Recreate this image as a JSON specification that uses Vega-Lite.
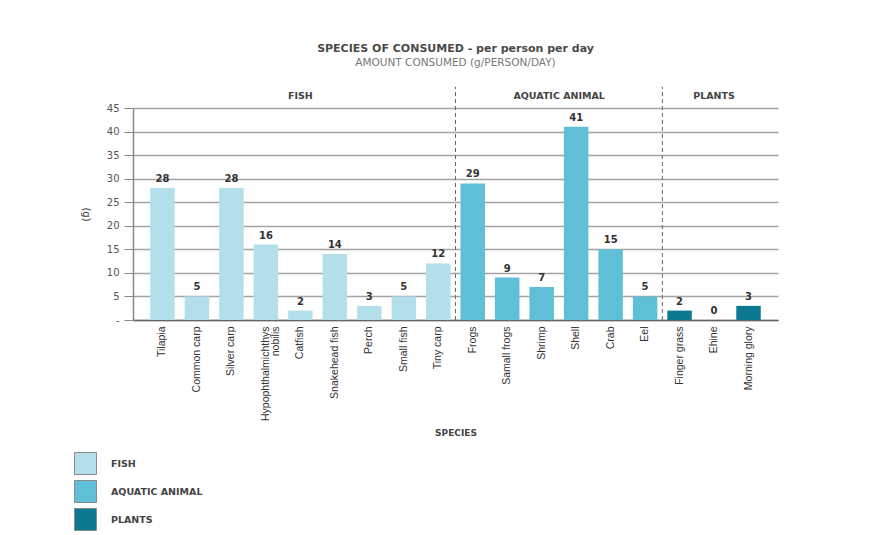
{
  "$schema": "https://vega.github.io/schema/vega-lite/v6.json",
  "autosize": {"type": "none"},
  "padding": {"left": 133, "top": 108, "right": 112, "bottom": 215},
  "width": 645,
  "height": 212,
  "background": "white",
  "title": {
    "text": "SPECIES OF CONSUMED - per person per day",
    "subtitle": "AMOUNT CONSUMED (g/PERSON/DAY)",
    "anchor": "middle",
    "font": "DejaVu Sans",
    "fontSize": 11,
    "fontWeight": "bold",
    "color": "#4a4a4a",
    "subtitleFont": "DejaVu Sans",
    "subtitleFontSize": 10.5,
    "subtitleColor": "#777777",
    "subtitlePadding": 4,
    "offset": 18
  },
  "datasets": {
    "bars": [
      {"species": "Tilapia", "group": "FISH", "grams": 28},
      {"species": "Common carp", "group": "FISH", "grams": 5},
      {"species": "Silver carp", "group": "FISH", "grams": 28},
      {"species": "Hypophthalmichthys nobilis", "group": "FISH", "grams": 16},
      {"species": "Catfish", "group": "FISH", "grams": 2},
      {"species": "Snakehead fish", "group": "FISH", "grams": 14},
      {"species": "Perch", "group": "FISH", "grams": 3},
      {"species": "Small fish", "group": "FISH", "grams": 5},
      {"species": "Tiny carp", "group": "FISH", "grams": 12},
      {"species": "Frogs", "group": "AQUATIC ANIMAL", "grams": 29},
      {"species": "Samall frogs", "group": "AQUATIC ANIMAL", "grams": 9},
      {"species": "Shrimp", "group": "AQUATIC ANIMAL", "grams": 7},
      {"species": "Shell", "group": "AQUATIC ANIMAL", "grams": 41},
      {"species": "Crab", "group": "AQUATIC ANIMAL", "grams": 15},
      {"species": "Eel", "group": "AQUATIC ANIMAL", "grams": 5},
      {"species": "Finger grass", "group": "PLANTS", "grams": 2},
      {"species": "Ehine", "group": "PLANTS", "grams": 0},
      {"species": "Morning glory", "group": "PLANTS", "grams": 3}
    ],
    "separators": [
      {"species": "Frogs"},
      {"species": "Finger grass"}
    ],
    "headersA": [
      {"species": "Catfish", "header": "FISH"},
      {"species": "Ehine", "header": "PLANTS"}
    ],
    "headersB": [
      {"species": "Shell", "header": "AQUATIC ANIMAL"}
    ]
  },
  "layer": [
    {
      "data": {"name": "bars"},
      "mark": {"type": "bar"},
      "encoding": {
        "x": {
          "field": "species",
          "type": "nominal",
          "sort": null,
          "scale": {"paddingInner": 0.29, "paddingOuter": 0.5},
          "axis": {
            "title": "SPECIES",
            "titleFont": "DejaVu Sans",
            "titleFontSize": 9,
            "titleFontWeight": "bold",
            "titleColor": "#444444",
            "titleBaseline": "middle",
            "titleY": 112,
            "labelAngle": -90,
            "labelFont": "Liberation Sans",
            "labelFontSize": 10.5,
            "labelColor": "#333333",
            "labelPadding": 6,
            "labelExpr": "datum.value == 'Hypophthalmichthys nobilis' ? ['Hypophthalmichthys', 'nobilis'] : datum.label",
            "labelLineHeight": 10,
            "ticks": false,
            "domainColor": "#666666",
            "domainWidth": 1.5,
            "grid": false
          }
        },
        "y": {
          "field": "grams",
          "type": "quantitative",
          "scale": {"domain": [0, 45], "nice": false},
          "axis": {
            "title": "(g)",
            "titleAngle": 90,
            "titleX": -53,
            "titleY": 106,
            "titleFont": "DejaVu Sans",
            "titleFontSize": 10,
            "titleFontWeight": "normal",
            "titleColor": "#444444",
            "values": [0, 5, 10, 15, 20, 25, 30, 35, 40, 45],
            "labelOverlap": false,
            "labelExpr": "datum.value == 0 ? '-' : datum.label",
            "labelFont": "DejaVu Sans",
            "labelFontSize": 10,
            "labelColor": "#555555",
            "labelPadding": 5,
            "tickSize": 9,
            "tickColor": "#888888",
            "domainColor": "#888888",
            "domainWidth": 1.5,
            "grid": true,
            "gridColor": "#a3a3a3",
            "gridWidth": 1.5
          }
        },
        "color": {
          "field": "group",
          "type": "nominal",
          "scale": {
            "domain": ["FISH", "AQUATIC ANIMAL", "PLANTS"],
            "range": ["#b3dfea", "#5fbfd6", "#0b7a91"]
          },
          "legend": {
            "title": null,
            "orient": "none",
            "legendX": -59,
            "legendY": 344,
            "symbolType": "square",
            "symbolSize": 484,
            "symbolStrokeColor": "#8a8a8a",
            "symbolStrokeWidth": 1,
            "symbolOpacity": 1,
            "rowPadding": 1,
            "labelOffset": 14,
            "labelFont": "DejaVu Sans",
            "labelFontSize": 9.5,
            "labelFontWeight": "bold",
            "labelColor": "#444444"
          }
        }
      }
    },
    {
      "data": {"name": "bars"},
      "mark": {"type": "text", "baseline": "bottom", "dy": -4, "font": "DejaVu Sans", "fontSize": 10, "fontWeight": "bold", "color": "#333333"},
      "encoding": {
        "x": {"field": "species", "type": "nominal", "sort": null},
        "y": {
          "field": "grams",
          "type": "quantitative",
          "axis": {
            "title": "(g)",
            "values": [0, 5, 10, 15, 20, 25, 30, 35, 40, 45],
            "labelOverlap": false,
            "labelExpr": "datum.value == 0 ? '-' : datum.label",
            "grid": true
          }
        },
        "text": {"field": "grams", "type": "quantitative"}
      }
    },
    {
      "data": {"name": "separators"},
      "mark": {"type": "rule", "color": "#666666", "strokeWidth": 1, "strokeDash": [4, 3], "xOffset": -5},
      "encoding": {
        "x": {"field": "species", "type": "nominal", "sort": null, "bandPosition": 0},
        "y": {
          "datum": 0,
          "axis": {
            "title": "(g)",
            "values": [0, 5, 10, 15, 20, 25, 30, 35, 40, 45],
            "labelOverlap": false,
            "labelExpr": "datum.value == 0 ? '-' : datum.label",
            "grid": true
          }
        },
        "y2": {"datum": 49.5}
      }
    },
    {
      "data": {"name": "headersA"},
      "mark": {"type": "text", "baseline": "middle", "font": "DejaVu Sans", "fontSize": 9.5, "fontWeight": "bold", "color": "#444444"},
      "encoding": {
        "x": {"field": "species", "type": "nominal", "sort": null},
        "y": {
          "datum": 47.5,
          "axis": {
            "title": "(g)",
            "values": [0, 5, 10, 15, 20, 25, 30, 35, 40, 45],
            "labelOverlap": false,
            "labelExpr": "datum.value == 0 ? '-' : datum.label",
            "grid": true
          }
        },
        "text": {"field": "header"}
      }
    },
    {
      "data": {"name": "headersB"},
      "mark": {"type": "text", "baseline": "middle", "dx": -17, "font": "DejaVu Sans", "fontSize": 9.5, "fontWeight": "bold", "color": "#444444"},
      "encoding": {
        "x": {"field": "species", "type": "nominal", "sort": null},
        "y": {
          "datum": 47.5,
          "axis": {
            "title": "(g)",
            "values": [0, 5, 10, 15, 20, 25, 30, 35, 40, 45],
            "labelOverlap": false,
            "labelExpr": "datum.value == 0 ? '-' : datum.label",
            "grid": true
          }
        },
        "text": {"field": "header"}
      }
    }
  ],
  "config": {
    "view": {"stroke": null}
  }
}
